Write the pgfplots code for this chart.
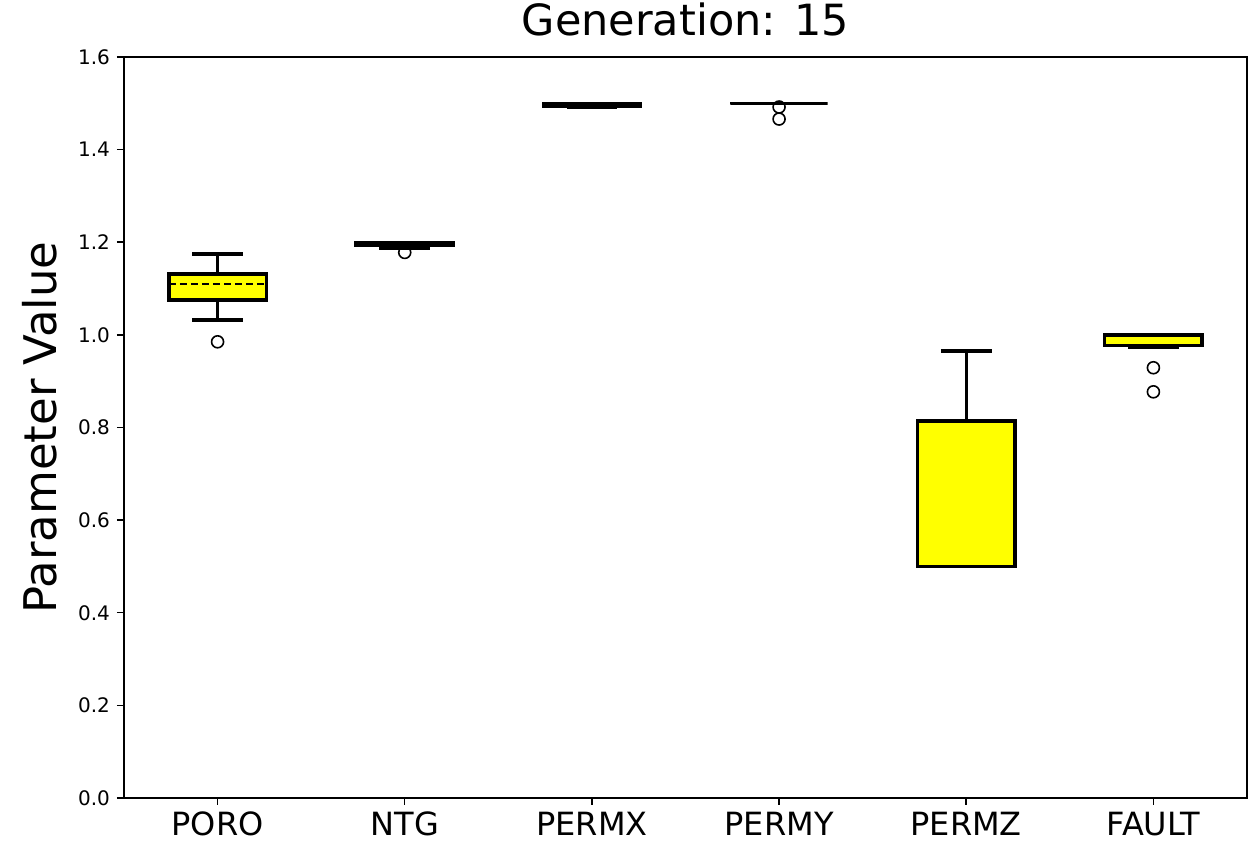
\documentclass[border=0pt]{standalone}
\usepackage{fontspec}
\setmainfont{DejaVu Sans}
\usepackage{pgfplots}
\pgfplotsset{compat=1.18}
\usepgfplotslibrary{statistics}
\definecolor{boxyellow}{RGB}{255,255,0}

\pgfplotsset{
  gbox/.style={
    black, solid,
    mark=o, mark size=3pt,
    mark options={black, fill=white, line width=0.8pt, solid},
    boxplot/draw direction=y,
    boxplot/box extend=0.52,
    boxplot/whisker extend=0.27,
    boxplot/every box/.style={draw=black, fill=boxyellow, line width=1.7pt},
    boxplot/every whisker/.style={draw=black, line width=1.7pt},
    boxplot/every median/.style={draw=black, line width=1.1pt, dash pattern=on 3.5pt off 2pt},
  },
}

\begin{document}
\begin{tikzpicture}
\useasboundingbox (-62pt,-23.5pt) rectangle (567pt,399pt);
\begin{axis}[
  scale only axis,
  width=561.5pt, height=370.5pt,
  xmin=0.5, xmax=6.5,
  ymin=0, ymax=1.6,
  xtick={1,2,3,4,5,6},
  xticklabels={PORO,NTG,PERMX,PERMY,PERMZ,FAULT},
  ytick={0,0.2,0.4,0.6,0.8,1.0,1.2,1.4,1.6},
  yticklabel style={font=\fontsize{10}{12}\selectfont,
    /pgf/number format/.cd, fixed, fixed zerofill, precision=1, assume math mode=true},
  xticklabel style={font=\fontsize{16}{19}\selectfont},
  tick align=outside,
  tick pos=left,
  major tick length=3.5pt,
  major tick style={black, line width=0.75pt},
  axis line style={black, line width=0.75pt},
  title={Generation: 15},
  title style={font=\fontsize{21.5}{24}\selectfont, at={(axis description cs:0.5,1)}, anchor=base, yshift=4.5pt},
  ylabel={Parameter Value},
  ylabel style={font=\fontsize{22.5}{25}\selectfont, at={(axis description cs:-0.0597,0.5)}, anchor=base, rotate=0},
]
% PORO
\addplot[gbox, boxplot prepared={draw position=1,
  lower whisker=1.032, lower quartile=1.075, median=1.110,
  upper quartile=1.131, upper whisker=1.175}] coordinates {(0,0.985)};
% NTG
\addplot[gbox, boxplot prepared={draw position=2,
  lower whisker=1.187, lower quartile=1.1935, median=1.199,
  upper quartile=1.1995, upper whisker=1.1995}] coordinates {(0,1.178)};
% PERMX
\addplot[gbox, boxplot prepared={draw position=3,
  lower whisker=1.492, lower quartile=1.4925, median=1.4985,
  upper quartile=1.4985, upper whisker=1.4985}] coordinates {};
% PERMY
\addplot[gbox, boxplot prepared={draw position=4,
  lower whisker=1.500, lower quartile=1.500, median=1.500,
  upper quartile=1.500, upper whisker=1.500}] coordinates {(0,1.492) (0,1.466)};
% PERMZ
\addplot[gbox, boxplot prepared={draw position=5,
  lower whisker=0.500, lower quartile=0.500, median=0.500,
  upper quartile=0.814, upper whisker=0.965}] coordinates {};
% FAULT
\addplot[gbox, boxplot prepared={draw position=6,
  lower whisker=0.973, lower quartile=0.977, median=0.999,
  upper quartile=0.9995, upper whisker=0.9995}] coordinates {(0,0.929) (0,0.877)};
\end{axis}
\end{tikzpicture}
\end{document}
